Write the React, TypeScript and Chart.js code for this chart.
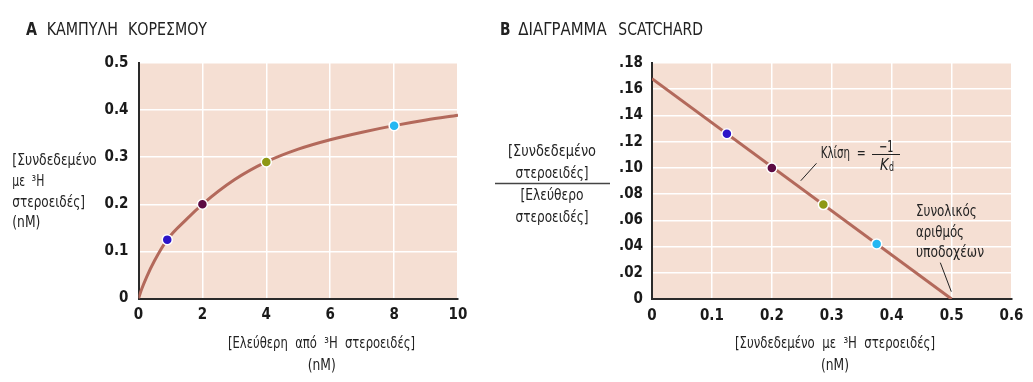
import React, { useEffect, useRef } from 'react';
import { Chart, registerables } from 'chart.js';
Chart.register(...registerables);

// ---------- DATA ----------
// A: saturation curve (free steroid nM -> bound steroid nM)
const satCurveX = [0, 0.1, 0.25, 0.5, 0.9, 1.5, 2, 3, 4, 5, 6, 7, 8, 9, 10];
const satCurveY = [0, 0.02, 0.045, 0.08, 0.125, 0.168, 0.2, 0.252, 0.29, 0.317, 0.337, 0.353, 0.367, 0.379, 0.389];
const satPointsX = [0.9, 2, 4, 8];
const satPointsY = [0.125, 0.2, 0.29, 0.367];
const xTicksA = [0, 2, 4, 6, 8, 10];
const xTickLabelsA = ['0', '2', '4', '6', '8', '10'];
const yTicksA = [0, 0.1, 0.2, 0.3, 0.4, 0.5];
const yTickLabelsA = ['0', '0.1', '0.2', '0.3', '0.4', '0.5'];

// B: Scatchard plot (bound nM -> bound/free)
const scatLineX = [0, 0.5];
const scatLineY = [0.168, 0];
const scatPointsX = [0.125, 0.2, 0.286, 0.375];
const scatPointsY = [0.126, 0.1, 0.072, 0.042];
const xTicksB = [0, 0.1, 0.2, 0.3, 0.4, 0.5, 0.6];
const xTickLabelsB = ['0', '0.1', '0.2', '0.3', '0.4', '0.5', '0.6'];
const yTicksB = [0, 0.02, 0.04, 0.06, 0.08, 0.1, 0.12, 0.14, 0.16, 0.18];
const yTickLabelsB = ['0', '.02', '.04', '.06', '.08', '.10', '.12', '.14', '.16', '.18'];

const pointColors = ['#2c14c8', '#5c0b44', '#8e9814', '#24b7f2'];

// ---------- STYLE ----------
const FONT = "'Liberation Sans Narrow', 'DejaVu Sans Condensed', 'Liberation Sans', sans-serif";
const LINE = '#b3695b';
const BG = '#f5dfd3';
const TXT = '#222';

function drawFit(ctx: CanvasRenderingContext2D, text: string, x: number, y: number, width: number, font: string, align: 'left' | 'center' = 'left') {
  ctx.save();
  ctx.font = font;
  ctx.fillStyle = TXT;
  const w = ctx.measureText(text).width || 1;
  const s = width / w;
  const left = align === 'center' ? x - width / 2 : x;
  ctx.translate(left, y);
  ctx.scale(s, 1);
  ctx.textAlign = 'left';
  ctx.textBaseline = 'alphabetic';
  ctx.fillText(text, 0, 0);
  ctx.restore();
}

const bgPlugin = {
  id: 'bg',
  beforeDraw(chart: any) {
    const { ctx, chartArea: a } = chart;
    ctx.save();
    ctx.fillStyle = BG;
    ctx.fillRect(a.left, a.top, a.right - a.left, a.bottom - a.top);
    ctx.restore();
  },
};

const N = (s: number) => `${s}px ${FONT}`;
const B = (s: number) => `bold ${s}px ${FONT}`;

function makeConfig(opts: {
  curve: { x: number; y: number }[];
  points: { x: number; y: number }[];
  xMin: number; xMax: number; yMin: number; yMax: number;
  xTicks: number[]; xLabels: string[]; yTicks: number[]; yLabels: string[];
  padding: { left: number; right: number; top: number; bottom: number };
  yPad: number;
  monotone: boolean;
  textPlugin: any;
}) {
  const gridColor = (c: any) => (c.tick && c.tick.value === 0 ? 'rgba(0,0,0,0)' : '#ffffff');
  return {
    type: 'line' as const,
    data: {
      datasets: [
        {
          data: opts.points,
          showLine: false,
          pointRadius: 5,
          pointHoverRadius: 5,
          pointBackgroundColor: pointColors,
          pointBorderColor: '#ffffff',
          pointBorderWidth: 1.5,
          order: 0,
        },
        {
          data: opts.curve,
          borderColor: LINE,
          borderWidth: 3,
          pointRadius: 0,
          fill: false,
          cubicInterpolationMode: opts.monotone ? 'monotone' : 'default',
          tension: 0,
          order: 1,
        },
      ],
    },
    options: {
      animation: false,
      responsive: false,
      devicePixelRatio: 1,
      layout: { padding: opts.padding },
      plugins: { legend: { display: false }, tooltip: { enabled: false } },
      scales: {
        x: {
          type: 'linear',
          min: opts.xMin,
          max: opts.xMax,
          afterBuildTicks: (s: any) => { s.ticks = opts.xTicks.map((v) => ({ value: v })); },
          afterFit: (s: any) => { s.height = 40; },
          ticks: {
            callback: (_v: any, i: number) => opts.xLabels[i],
            font: { family: FONT, size: 15, weight: 'bold' },
            color: '#1a1a1a',
            padding: 8,
            maxRotation: 0,
            autoSkip: false,
          },
          grid: { color: gridColor, lineWidth: 1.5, drawTicks: false },
          border: { color: '#2a2a2a', width: 2 },
        },
        y: {
          type: 'linear',
          min: opts.yMin,
          max: opts.yMax,
          afterBuildTicks: (s: any) => { s.ticks = opts.yTicks.map((v) => ({ value: v })); },
          afterFit: (s: any) => { s.width = 40; },
          ticks: {
            callback: (_v: any, i: number) => opts.yLabels[i],
            font: { family: FONT, size: 15, weight: 'bold' },
            color: '#1a1a1a',
            padding: opts.yPad,
            autoSkip: false,
          },
          grid: { color: gridColor, lineWidth: 1.5, drawTicks: false },
          border: { color: '#2a2a2a', width: 2 },
        },
      },
    },
    plugins: [bgPlugin, opts.textPlugin],
  };
}

// Text for panel A (canvas starts at page x = 0)
const textA = {
  id: 'textA',
  afterDraw(chart: any) {
    const ctx: CanvasRenderingContext2D = chart.ctx;
    drawFit(ctx, 'A', 26, 35, 11, B(17));
    drawFit(ctx, 'ΚΑΜΠΥΛΗ', 46.7, 35, 71.3, N(17));
    drawFit(ctx, 'ΚΟΡΕΣΜΟΥ', 128, 35, 79, N(17));
    // y title
    drawFit(ctx, '[Συνδεδεμένο', 12.3, 165, 84.4, N(16));
    drawFit(ctx, 'με  ³H', 12.3, 186, 32, N(16));
    drawFit(ctx, 'στεροειδές]', 12.3, 207, 72.7, N(16));
    drawFit(ctx, '(nM)', 12.3, 227, 28, N(16));
    // x title
    drawFit(ctx, '[Ελεύθερη  από  ³H  στεροειδές]', 321.5, 348, 187, N(16), 'center');
    drawFit(ctx, '(nM)', 321.7, 370, 28, N(16), 'center');
  },
};

// Text for panel B (canvas starts at page x = 490)
const OX = 490;
const textB = {
  id: 'textB',
  afterDraw(chart: any) {
    const ctx: CanvasRenderingContext2D = chart.ctx;
    const xs = chart.scales.x;
    const ys = chart.scales.y;
    drawFit(ctx, 'B', 500 - OX, 35, 10.5, B(17));
    drawFit(ctx, 'ΔΙΑΓΡΑΜΜΑ', 518.3 - OX, 35, 88.4, N(17));
    drawFit(ctx, 'SCATCHARD', 618.3 - OX, 35, 84.7, N(17));
    // y title as fraction
    drawFit(ctx, '[Συνδεδεμένο', 552 - OX, 156, 88, N(16), 'center');
    drawFit(ctx, 'στεροειδές]', 552 - OX, 178, 73, N(16), 'center');
    ctx.save();
    ctx.strokeStyle = '#444';
    ctx.lineWidth = 1.5;
    ctx.beginPath();
    ctx.moveTo(495 - OX, 183.5);
    ctx.lineTo(610 - OX, 183.5);
    ctx.stroke();
    ctx.restore();
    drawFit(ctx, '[Ελεύθερο', 552 - OX, 200, 63, N(16), 'center');
    drawFit(ctx, 'στεροειδές]', 552 - OX, 222, 73, N(16), 'center');
    // x title
    drawFit(ctx, '[Συνδεδεμένο  με  ³H  στεροειδές]', 835 - OX, 348, 200, N(16), 'center');
    drawFit(ctx, '(nM)', 835 - OX, 370, 28, N(16), 'center');

    // slope annotation
    drawFit(ctx, 'Κλίση', 820.7 - OX, 158.3, 29.3, N(16));
    drawFit(ctx, '=', 856.7 - OX, 158.3, 9, N(16));
    drawFit(ctx, '−1', 879 - OX, 151.7, 14.3, N(16));
    ctx.save();
    ctx.strokeStyle = '#222';
    ctx.lineWidth = 1;
    ctx.beginPath();
    ctx.moveTo(872 - OX, 154.5);
    ctx.lineTo(900 - OX, 154.5);
    ctx.stroke();
    ctx.restore();
    drawFit(ctx, 'K', 880 - OX, 169.5, 8.5, `italic 16px ${FONT}`);
    drawFit(ctx, 'd', 889 - OX, 171, 5, N(12));

    // total receptors annotation
    drawFit(ctx, 'Συνολικός', 916 - OX, 215.5, 60.7, N(16));
    drawFit(ctx, 'αριθμός', 916 - OX, 236.5, 48, N(16));
    drawFit(ctx, 'υποδοχέων', 916 - OX, 257.3, 68, N(16));

    // leader lines (anchored to data coordinates)
    ctx.save();
    ctx.strokeStyle = '#222';
    ctx.lineWidth = 1;
    ctx.beginPath();
    ctx.moveTo(xs.getPixelForValue(0.2745), ys.getPixelForValue(0.1035));
    ctx.lineTo(xs.getPixelForValue(0.2483), ys.getPixelForValue(0.0902));
    ctx.moveTo(xs.getPixelForValue(0.4812), ys.getPixelForValue(0.0277));
    ctx.lineTo(xs.getPixelForValue(0.4995), ys.getPixelForValue(0.0056));
    ctx.stroke();
    ctx.restore();
  },
};

export default function App() {
  const refA = useRef<HTMLCanvasElement | null>(null);
  const refB = useRef<HTMLCanvasElement | null>(null);

  useEffect(() => {
    const curveA = satCurveX.map((x, i) => ({ x, y: satCurveY[i] }));
    const ptsA = satPointsX.map((x, i) => ({ x, y: satPointsY[i] }));
    const lineB = scatLineX.map((x, i) => ({ x, y: scatLineY[i] }));
    const ptsB = scatPointsX.map((x, i) => ({ x, y: scatPointsY[i] }));

    const chartA = new Chart(refA.current as HTMLCanvasElement, makeConfig({
      curve: curveA, points: ptsA,
      xMin: 0, xMax: 10, yMin: 0, yMax: 0.5,
      xTicks: xTicksA, xLabels: xTickLabelsA, yTicks: yTicksA, yLabels: yTickLabelsA,
      padding: { left: 98.5, right: 32, top: 63, bottom: 43.5 },
      yPad: 10,
      monotone: true,
      textPlugin: textA,
    }) as any);

    const chartB = new Chart(refB.current as HTMLCanvasElement, makeConfig({
      curve: lineB, points: ptsB,
      xMin: 0, xMax: 0.6, yMin: 0, yMax: 0.18,
      xTicks: xTicksB, xLabels: xTickLabelsB, yTicks: yTicksB, yLabels: yTickLabelsB,
      padding: { left: 122, right: 21.5, top: 63, bottom: 43 },
      yPad: 9,
      monotone: false,
      textPlugin: textB,
    }) as any);

    return () => {
      chartA.destroy();
      chartB.destroy();
    };
  }, []);

  return (
    <div style={{ position: 'fixed', left: 0, top: 0, width: 1033, height: 382, background: '#ffffff', overflow: 'hidden' }}>
      <canvas ref={refA} width={490} height={382} style={{ position: 'absolute', left: 0, top: 0, width: 490, height: 382, display: 'block' }} />
      <canvas ref={refB} width={543} height={382} style={{ position: 'absolute', left: 490, top: 0, width: 543, height: 382, display: 'block' }} />
    </div>
  );
}
